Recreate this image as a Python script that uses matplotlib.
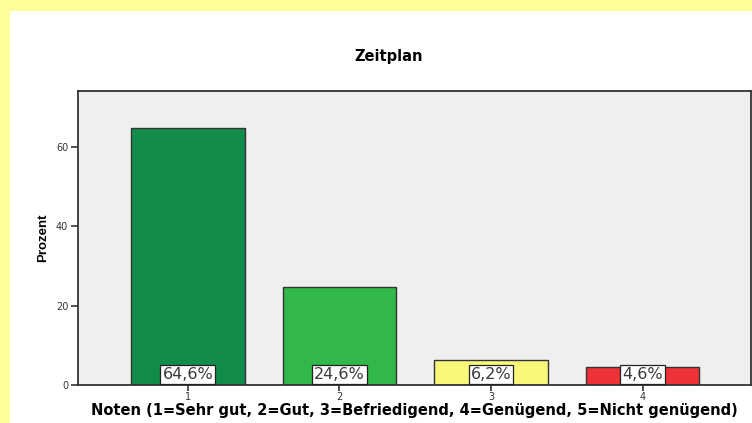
import matplotlib.pyplot as plt
import matplotlib.patches as mpatches

# Zeitplan: share of grades 1-4
noten = [1, 2, 3, 4]
prozent = [64.6, 24.6, 6.2, 4.6]
labels = ["64,6%", "24,6%", "6,2%", "4,6%"]
farben = ["#118c4b", "#32b84a", "#f8f77a", "#ee3238"]

fig = plt.figure(figsize=(7.52, 4.23), dpi=100)
fig.patch.set_facecolor("#ffff99")

# white panel inside the yellow border
fig.patches.append(mpatches.Rectangle((10 / 752, 0), 1, 1 - 11 / 423,
                                      transform=fig.transFigure,
                                      facecolor="white", edgecolor="none",
                                      zorder=-5))

ax = fig.add_axes([78 / 752, 38 / 423, 673 / 752, 294 / 423])
ax.set_zorder(2)
ax.set_facecolor("#efefef")

ax.bar(noten, prozent, width=0.75, color=farben, edgecolor="#333333",
       linewidth=1.0, zorder=2)

for x, y, txt in zip(noten, prozent, labels):
    ax.annotate(txt, (x, 0), xytext=(0, 1.9), textcoords="offset points",
                ha="center", va="bottom", fontsize=11.5, color="#3a3a3a",
                family="DejaVu Sans", zorder=3,
                bbox=dict(boxstyle="square,pad=0.13", facecolor="white",
                          edgecolor="#222222", linewidth=0.9))

ax.set_xlim(0.275, 4.715)
ax.set_ylim(0, 74)
ax.set_xticks(noten)
ax.set_yticks([0, 20, 40, 60])
ax.tick_params(axis="both", labelsize=7, colors="#333333", width=1.2)
ax.tick_params(axis="y", length=5, pad=2)
ax.tick_params(axis="x", length=4, pad=1)
for side in ax.spines.values():
    side.set_color("#333333")
    side.set_linewidth(1.3)

ax.set_ylabel("Prozent", fontsize=9.5, fontweight="bold",
              family="Liberation Sans", labelpad=5)
ax.set_xlabel("Noten (1=Sehr gut, 2=Gut, 3=Befriedigend, 4=Genügend, 5=Nicht genügend)",
              fontsize=10.5, fontweight="bold", family="DejaVu Sans")
ax.xaxis.set_label_coords(0.50, -0.06, transform=ax.transAxes)

fig.text(389 / 752, 1 - 57 / 423, "Zeitplan", ha="center", va="center",
         fontsize=10.5, fontweight="bold", family="DejaVu Sans")

fig.savefig("out.png", dpi=100, facecolor=fig.get_facecolor())
